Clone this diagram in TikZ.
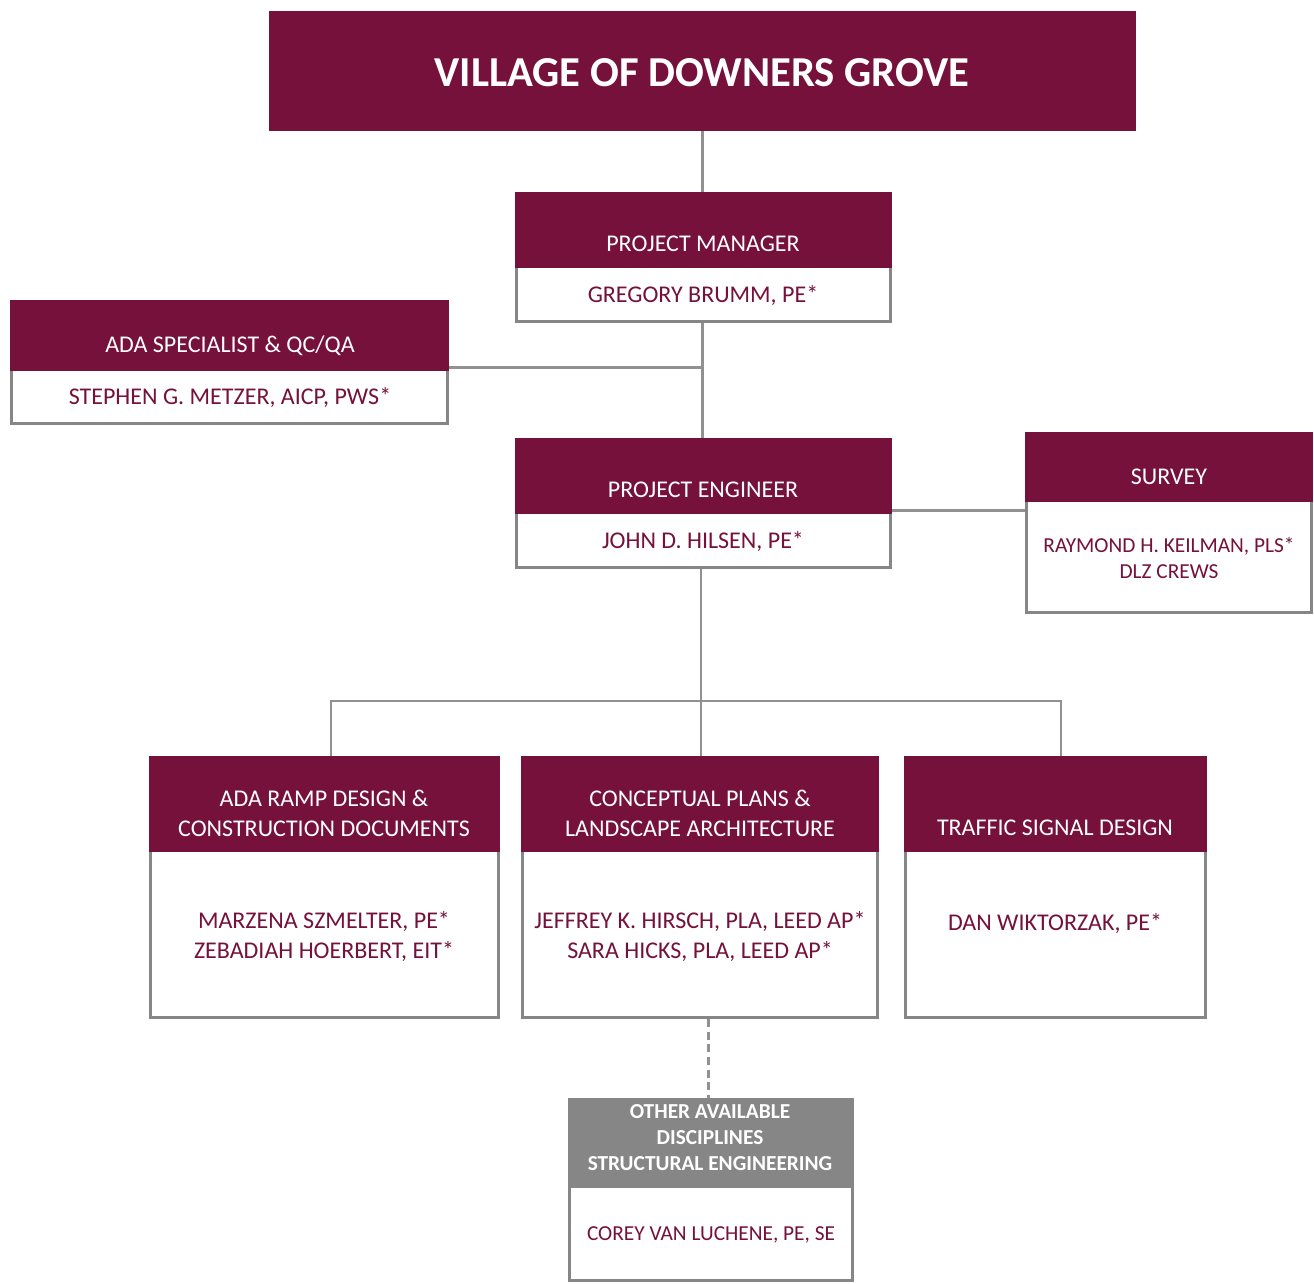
\documentclass[tikz,border=0pt]{standalone}
\usepackage{fontspec}
\setmainfont{Carlito}
\usepackage{tikz}

\definecolor{dgmaroon}{RGB}{117,17,58}
\definecolor{dggray}{RGB}{134,134,134}
\definecolor{dgline}{RGB}{145,145,145}

\tikzset{
  headbox/.style={fill=dgmaroon, inner sep=0pt},
  otherbox/.style={fill=dggray, inner sep=0pt},
  bodybox/.style={draw=dggray, line width=2pt, fill=white, inner sep=0pt},
  headtext/.style={text=white, align=center, inner sep=0.75pt, font=\fontsize{18}{22.5}\selectfont},
  bodytext/.style={text=dgmaroon, align=center, inner sep=0.75pt, font=\fontsize{18}{22.5}\selectfont},
  smalltext/.style={text=dgmaroon, align=center, inner sep=0.75pt, font=\fontsize{16}{19.5}\selectfont},
  link/.style={draw=dgline, line width=2pt},
  dashlink/.style={draw=dgline, line width=1.8pt, dash pattern=on 6pt off 3.5pt},
}

\begin{document}
\begin{tikzpicture}[x=0.75pt,y=0.75pt,yscale=-1,xscale=1]
\useasboundingbox (0,0) rectangle (1314,1283);

%Shape: Rectangle [title]
\node [headbox, minimum width=650.25pt, minimum height=90pt] (title) at (702.5,71) {};
% Text Node
\node [text=white, inner sep=0.75pt, font=\fontsize{32}{36}\selectfont\bfseries] (titletxt) at (702,73) {VILLAGE OF DOWNERS GROVE};

%Shape: Rectangle [project manager]
\node [bodybox, minimum width=280.75pt, minimum height=68.75pt] (pmbody) at (703.5,275.8) {};
\node [headbox, minimum width=282.75pt, minimum height=57pt] (pmhead) at (703.5,230) {};
% Text Node
\node [headtext] (pmtitle) at (703,244) {PROJECT MANAGER};
\node [bodytext] (pmname) at (703,296) {GREGORY BRUMM, PE*};

%Shape: Rectangle [ada specialist]
\node [bodybox, minimum width=327.25pt, minimum height=66.1pt] (adabody) at (229.5,379.6) {};
\node [headbox, minimum width=329.25pt, minimum height=53.25pt] (adahead) at (229.5,335.5) {};
% Text Node
\node [headtext] (adatitle) at (230,346) {ADA SPECIALIST \& QC/QA};
\node [bodytext] (adaname) at (230,398) {STEPHEN G. METZER, AICP, PWS*};

%Shape: Rectangle [project engineer]
\node [bodybox, minimum width=280.75pt, minimum height=68.75pt] (pebody) at (703.5,521.8) {};
\node [headbox, minimum width=282.75pt, minimum height=57pt] (pehead) at (703.5,476) {};
% Text Node
\node [headtext] (petitle) at (703,490) {PROJECT ENGINEER};
\node [bodytext] (pename) at (703,542) {JOHN D. HILSEN, PE*};

%Shape: Rectangle [survey]
\node [bodybox, minimum width=214pt, minimum height=109.25pt] (survbody) at (1169,539.8) {};
\node [headbox, minimum width=216pt, minimum height=52.5pt] (survhead) at (1169,467) {};
% Text Node
\node [headtext] (survtitle) at (1169,477) {SURVEY};
\node [smalltext] (survname) at (1169,558) {RAYMOND H. KEILMAN, PLS*\\DLZ CREWS};

%Shape: Rectangle [ada ramp]
\node [bodybox, minimum width=261.25pt, minimum height=160.25pt] (rampbody) at (324.5,910.8) {};
\node [headbox, minimum width=263.25pt, minimum height=72pt] (ramphead) at (324.5,804) {};
% Text Node
\node [headtext] (ramptitle) at (324,813) {ADA RAMP DESIGN \&\\CONSTRUCTION DOCUMENTS};
\node [bodytext] (rampname) at (324,936) {MARZENA SZMELTER, PE*\\ZEBADIAH HOERBERT, EIT*};

%Shape: Rectangle [conceptual plans]
\node [bodybox, minimum width=266.5pt, minimum height=160.25pt] (concbody) at (700,910.8) {};
\node [headbox, minimum width=268.5pt, minimum height=72pt] (conchead) at (700,804) {};
% Text Node
\node [headtext] (conctitle) at (700,813) {CONCEPTUAL PLANS \&\\LANDSCAPE ARCHITECTURE};
\node [bodytext] (concname) at (700,936) {JEFFREY K. HIRSCH, PLA, LEED AP*\\SARA HICKS, PLA, LEED AP*};

%Shape: Rectangle [traffic signal]
\node [bodybox, minimum width=225.25pt, minimum height=160.25pt] (trafbody) at (1055.5,910.8) {};
\node [headbox, minimum width=227.25pt, minimum height=72pt] (trafhead) at (1055.5,804) {};
% Text Node
\node [headtext] (traftitle) at (1055,828) {TRAFFIC SIGNAL DESIGN};
\node [bodytext] (trafname) at (1055,923) {DAN WIKTORZAK, PE*};

%Shape: Rectangle [other disciplines]
\node [bodybox, minimum width=212.5pt, minimum height=103pt] (othbody) at (711,1211.7) {};
\node [otherbox, minimum width=214.5pt, minimum height=67.5pt] (othhead) at (711,1143) {};
% Text Node
\node [headtext, font=\fontsize{16}{19.5}\selectfont\bfseries] (othtitle) at (710,1138) {OTHER AVAILABLE\\DISCIPLINES\\STRUCTURAL ENGINEERING};
\node [smalltext] (othname) at (711,1235) {COREY VAN LUCHENE, PE, SE};

%Straight Lines
\draw [link] (title.south) -- (title.south |- pmhead.north);
\draw [link] (pmbody.south -| title.south) -- (pehead.north -| title.south);
\coordinate (adajoin) at ([yshift=-3pt]adahead.south east);
\draw [link] (adajoin) -- (adajoin -| title.south);
\coordinate (pejoin) at ([yshift=-3pt]pehead.south east);
\draw [link] (pejoin) -- (pejoin -| survhead.west);
\coordinate (bus) at (701,701);
\draw [link] (bus |- pebody.south) -- (bus) -- (bus |- conchead.north);
\draw [link] ([xshift=4.9pt]ramphead.north) |- (bus);
\draw [link] ([xshift=4.1pt]trafhead.north) |- (bus);
%Dashed Line
\coordinate (dashtop) at ([xshift=6.5pt]concbody.south);
\draw [dashlink] (dashtop) -- (dashtop |- othhead.north);
\end{tikzpicture}
\end{document}
